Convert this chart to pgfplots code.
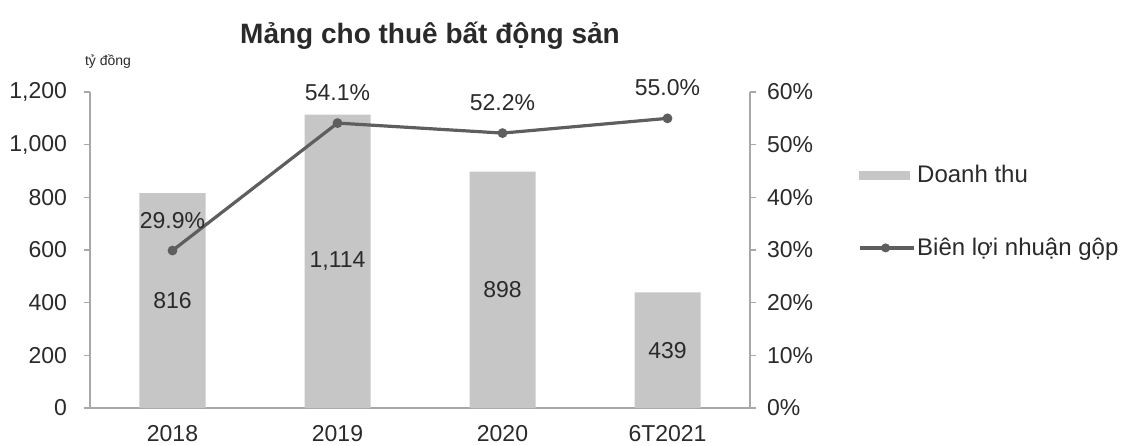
\documentclass[border=0pt]{standalone}
\usepackage{pgfplots}
\pgfplotsset{compat=1.18}
\usepackage{fontspec}
\setmainfont{Liberation Sans}
\definecolor{barc}{HTML}{C6C6C6}
\definecolor{linec}{HTML}{5E5E5E}
\definecolor{axc}{HTML}{A8A8A8}
\definecolor{txt}{HTML}{2A2A2A}
\begin{document}
\begin{tikzpicture}
\path[use as bounding box] (-45pt,-18.5pt) rectangle (519pt,204pt);
\pgfplotsset{
  base/.style={
    scale only axis, width=330pt, height=158pt,
    xmin=-0.5, xmax=3.5,
    axis line style={axc, line width=0.8pt},
    tick style={axc, line width=0.8pt},
    tick align=outside, major tick length=3pt,
    ticklabel style={font=\fontsize{11.5}{13}\selectfont, text=txt},
    /pgf/number format/assume math mode=true,
  }
}
\begin{axis}[base,
  axis x line*=bottom, axis y line*=left,
  ymin=0, ymax=1200, ytick={0,200,...,1200},
  /pgf/number format/.cd, 1000 sep={,}, /pgfplots/.cd,
  yticklabel style={xshift=-5pt},
  xtick={0,1,2,3}, xticklabels={2018,2019,2020,6T2021},
  xticklabel style={yshift=-2pt},
  x tick style={draw=none},
  extra x ticks={0.5,1.5,2.5}, extra x tick labels={},
  extra x tick style={tick style={axc, line width=0.8pt}, major tick length=4pt},
]
\addplot[ybar, bar width=33pt, fill=barc, draw=none,
  visualization depends on=rawy\as\rawy,
  nodes near coords,
  nodes near coords style={anchor=center, shift={(axis direction cs:0,-\rawy/2)},
    font=\fontsize{11.5}{13}\selectfont, text=txt,
    /pgf/number format/.cd, 1000 sep={,}},
] coordinates {(0,816) (1,1114) (2,898) (3,439)};
\end{axis}
\begin{axis}[base,
  axis x line=none, axis y line*=right,
  ymin=0, ymax=60, ytick={0,10,...,60},
  yticklabel={\pgfmathprintnumber{\tick}\%},
  yticklabel style={xshift=2pt},
  legend style={draw=none, fill=none, at={(1.163,0.782)}, anchor=north west,
    font=\fontsize{12}{14}\selectfont, text=txt, row sep=22pt,
    inner sep=0pt, nodes={inner xsep=1pt}},
  legend cell align=left,
]
\addlegendimage{legend image code/.code={\fill[barc] (0pt,-2pt) rectangle (25pt,2pt);}}
\addlegendentry{Doanh thu}
\addplot[linec, line width=1.6pt, mark=*, mark size=1.6pt,
  nodes near coords={\pgfmathprintnumber[fixed,fixed zerofill,precision=1]{\pgfplotspointmeta}\%},
  nodes near coords style={anchor=south, yshift=7pt, font=\fontsize{11.5}{13}\selectfont, text=txt},
  legend image code/.code={\draw[linec, line width=1.6pt] (0pt,0pt) -- (27pt,0pt); \fill[linec] (13pt,0pt) circle (1.4pt);},
] coordinates {(0,29.9) (1,54.1) (2,52.2) (3,55.0)};
\addlegendentry{Biên lợi nhuận gộp}
\end{axis}
\node[font=\bfseries\fontsize{14}{16}\selectfont, text=txt] at (170pt,186pt) {Mảng cho thuê bất động sản};
\node[font=\fontsize{7}{8}\selectfont, text=txt] at (9pt,173pt) {tỷ đồng};
\end{tikzpicture}
\end{document}
